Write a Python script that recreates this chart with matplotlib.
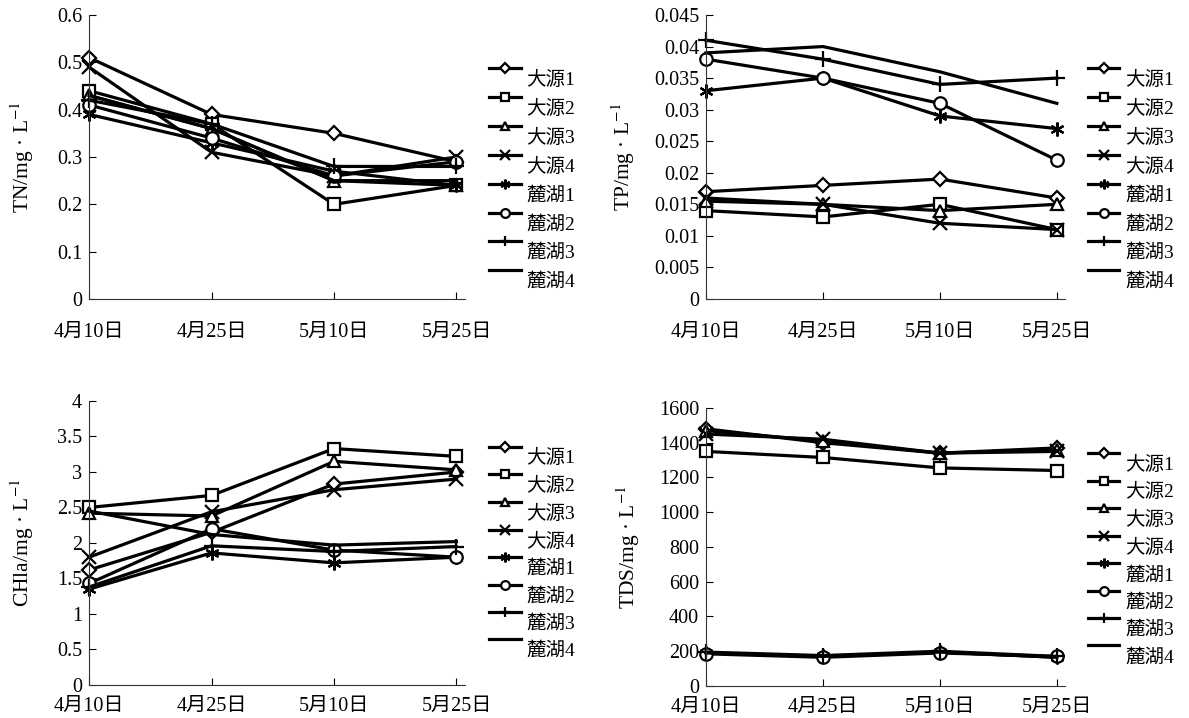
import matplotlib
matplotlib.use('Agg')
import matplotlib.pyplot as plt
from matplotlib.ticker import FuncFormatter

plt.rcParams['font.family'] = ['Liberation Serif', 'Noto Sans CJK SC']
plt.rcParams['mathtext.fontset'] = 'stix'
plt.rcParams['font.size'] = 14

dates = ['4月10日', '4月25日', '5月10日', '5月25日']
sites = ['大源1', '大源2', '大源3', '大源4', '麓湖1', '麓湖2', '麓湖3', '麓湖4']

# values, one row per site
tn = [[0.51, 0.39, 0.35, 0.29],
      [0.44, 0.37, 0.20, 0.24],
      [0.43, 0.36, 0.25, 0.24],
      [0.49, 0.31, 0.26, 0.30],
      [0.39, 0.33, 0.27, 0.24],
      [0.41, 0.34, 0.26, 0.29],
      [0.42, 0.37, 0.28, 0.28],
      [0.43, 0.36, 0.25, 0.25]]

tp = [[0.017, 0.018, 0.019, 0.016],
      [0.014, 0.013, 0.015, 0.011],
      [0.0155, 0.015, 0.014, 0.015],
      [0.016, 0.015, 0.012, 0.011],
      [0.033, 0.035, 0.029, 0.027],
      [0.038, 0.035, 0.031, 0.022],
      [0.041, 0.038, 0.034, 0.035],
      [0.039, 0.040, 0.036, 0.031]]

chla = [[1.62, 2.15, 2.83, 3.0],
        [2.5, 2.67, 3.33, 3.22],
        [2.42, 2.38, 3.15, 3.03],
        [1.8, 2.44, 2.75, 2.9],
        [1.35, 1.86, 1.72, 1.8],
        [1.43, 2.2, 1.9, 1.8],
        [1.38, 1.96, 1.88, 1.95],
        [2.45, 2.12, 1.97, 2.02]]

tds = [[1480, 1400, 1340, 1370],
       [1350, 1315, 1255, 1240],
       [1470, 1410, 1340, 1360],
       [1450, 1420, 1340, 1350],
       [190, 170, 195, 165],
       [185, 165, 190, 170],
       [195, 175, 200, 170],
       [190, 170, 195, 165]]

markers = ['D', 's', '^', 'x', (6, 2, 0), 'o', '+', '']
msizes = [7, 8.5, 8.5, 9.5, 10, 9, 11, 0]

# data, axes rect, ymax, ystep, ylabel, label x, legend top, x label pad, legend spacing
panels = [
    (tn, [0.0749, 0.5836, 0.3162, 0.3955], 0.6, 0.1, 'TN/mg · L$^{-1}$', -0.141, 0.84, 17, 0.57),
    (tp, [0.5938, 0.5836, 0.3019, 0.3955], 0.045, 0.005, 'TP/mg · L$^{-1}$', -0.192, 0.84, 17, 0.57),
    (chla, [0.0749, 0.0460, 0.3162, 0.3955], 4, 0.5, 'CHla/mg · L$^{-1}$', -0.141, 0.865, 8.5, 0.5),
    (tds, [0.5938, 0.0446, 0.3019, 0.3872], 1600, 200, 'TDS/mg · L$^{-1}$', -0.178, 0.865, 8.5, 0.5),
]

fig = plt.figure(figsize=(11.89, 7.18), dpi=100)

for data, rect, ymax, step, ylabel, lx, ly_leg, xpad, lsp in panels:
    ax = fig.add_axes(rect)
    x = range(len(dates))
    for vals, name, mk, ms in zip(data, sites, markers, msizes):
        ax.plot(x, vals, color='black', lw=2.3, marker=mk, ms=ms,
                mfc='white', mec='black', mew=1.6, label=name, clip_on=False)
    ax.set_xlim(0, 3.07)
    ax.set_ylim(0, ymax)
    nt = int(round(ymax / step))
    ax.set_yticks([i * step for i in range(nt + 1)])
    ax.yaxis.set_major_formatter(FuncFormatter(lambda v, p: '%g' % round(v, 4)))
    ax.set_xticks(list(x))
    ax.set_xticklabels(dates)
    ax.tick_params(direction='in', length=5, width=0.8, labelsize=14.5)
    ax.tick_params(axis='x', pad=xpad)
    ax.tick_params(axis='y', pad=5)
    for s in ['top', 'right']:
        ax.spines[s].set_visible(False)
    for s in ['left', 'bottom']:
        ax.spines[s].set_linewidth(0.8)
        ax.spines[s].set_color('#333333')
    ax.set_ylabel(ylabel, fontsize=15.5)
    ax.yaxis.set_label_coords(lx, 0.5)
    leg = ax.legend(loc='upper left', bbox_to_anchor=(1.065, ly_leg), frameon=False,
                    handlelength=1.6, handletextpad=0.3, labelspacing=lsp,
                    markerscale=0.7, borderpad=0, borderaxespad=0, fontsize=14)
    for t in leg.get_texts():
        t.set_y(-10)

fig.savefig('out.png', dpi=100)
